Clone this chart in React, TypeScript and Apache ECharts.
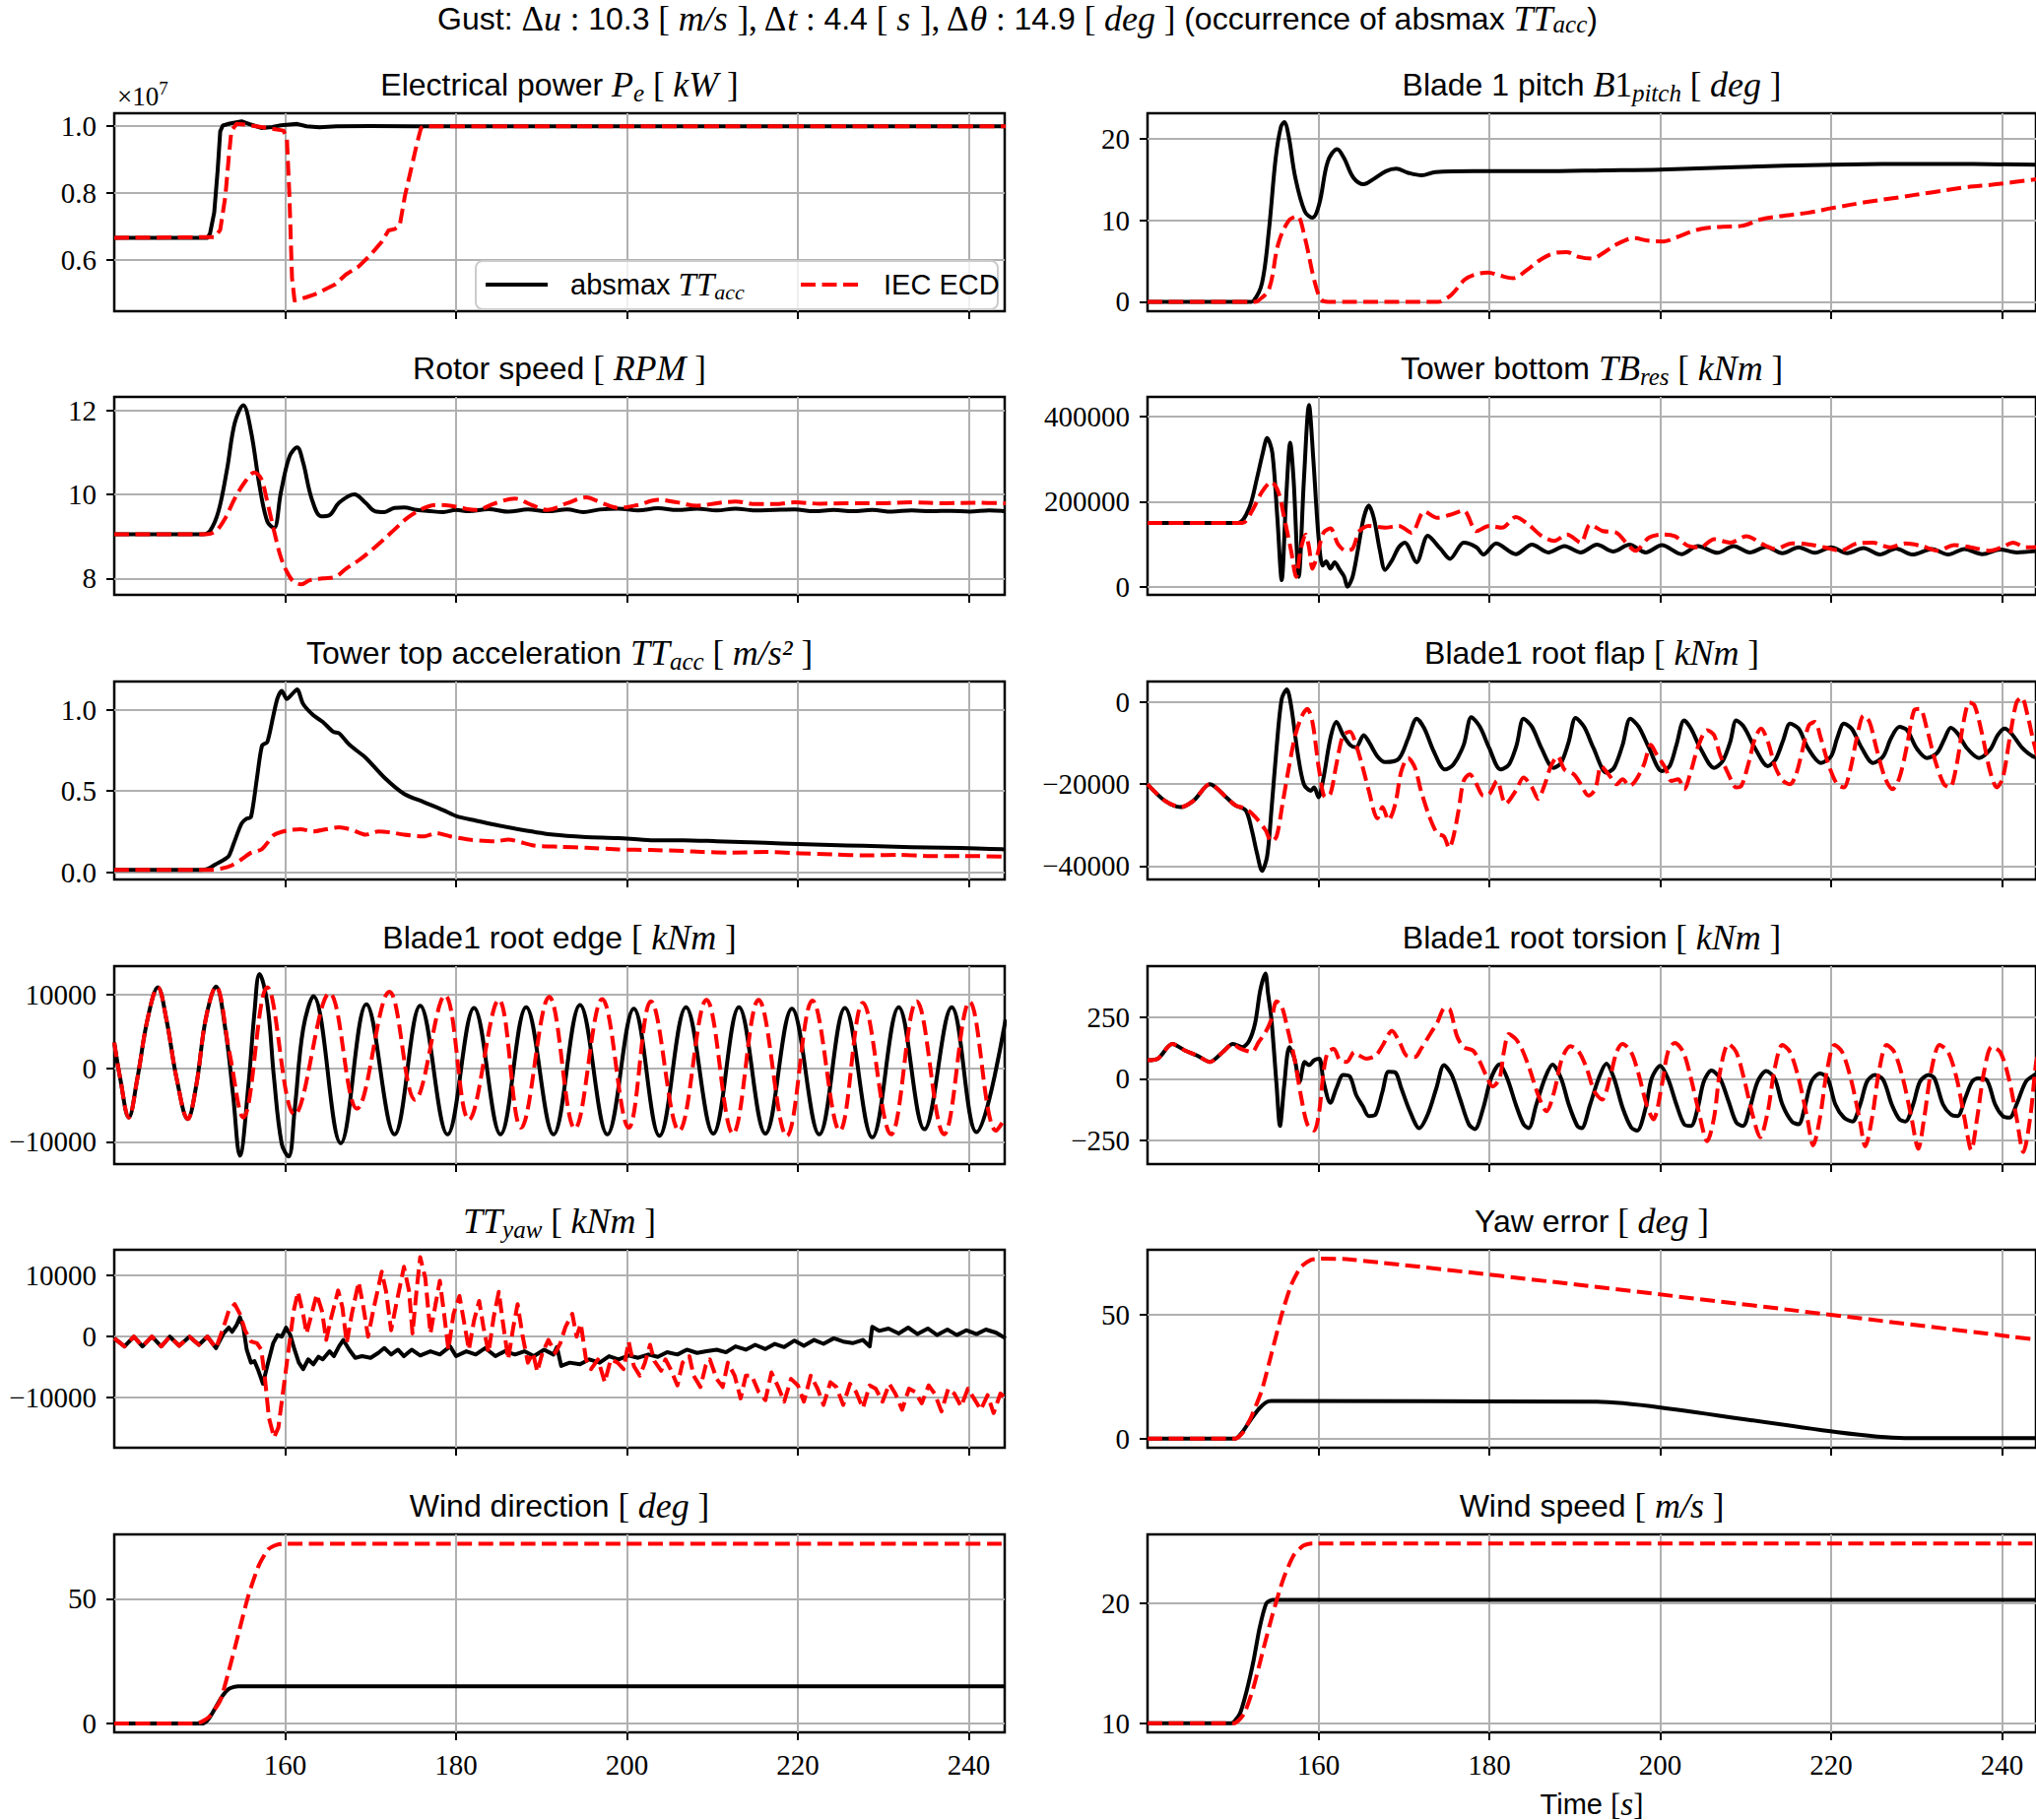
import React, { useEffect, useRef } from "react";
import * as echarts from "echarts";

// ---------------- data (time [s], value) ----------------
const X_TICKS = [160, 180, 200, 220, 240];

// Electrical power, in units of 1e7
const powerAbsmax = [[140,0.666],[150.9,0.666],[151.2,0.678],[151.7,0.742],[152.1,0.868],[152.4,0.985],[152.7,1.002],[153.5,1.008],[154.9,1.015],[156.0,1.005],[157.2,0.995],[158.5,0.998],[159.5,1.003],[161.4,1.007],[162.5,1.0],[164.0,0.997],[166.0,1.0],[170.0,1.001],[175.0,1.0],[244.3,1.0]];
const powerIec = [[140,0.666],[151.8,0.668],[152.4,0.69],[153.0,0.79],[153.4,0.907],[153.7,0.985],[154.3,1.007],[155.3,1.005],[157.2,0.998],[159.8,0.987],[160.2,0.965],[160.5,0.79],[160.8,0.546],[161.1,0.478],[161.8,0.483],[162.5,0.488],[163.3,0.495],[164.0,0.502],[164.8,0.513],[165.9,0.527],[167.1,0.556],[168.6,0.58],[169.8,0.61],[170.5,0.63],[171.3,0.654],[172.1,0.688],[172.8,0.692],[173.4,0.702],[174.0,0.79],[174.7,0.868],[175.4,0.946],[175.9,0.995],[176.3,1.0],[244.3,1.0]];

const pitchAbsmax = [[140,0],[152.0,0],[152.4,0.1],[153.4,2.3],[154.2,8.7],[155.0,17.6],[155.6,21.4],[156.0,22.0],[156.5,20.4],[157.3,15.2],[158.4,11.1],[159.3,10.3],[160.1,12.0],[161.1,17.2],[162.2,18.7],[163.0,17.6],[164.1,15.2],[165.3,14.4],[166.4,15.0],[167.9,16.0],[169.1,16.3],[170.5,15.8],[172.1,15.5],[173.7,15.9],[178.2,16.0],[185.9,16.0],[193.5,16.1],[200.0,16.2],[208.8,16.5],[220.2,16.8],[231.7,16.9],[244.3,16.8]];
const pitchIec = [[140,0],[152.5,0],[152.9,0.1],[154.2,1.5],[155.3,7.1],[156.5,9.9],[157.5,10.5],[158.4,7.9],[159.5,2.7],[160.3,0.3],[161.1,0],[174.0,0],[174.4,0.1],[175.6,0.9],[177.1,2.7],[178.2,3.3],[179.8,3.6],[181.3,3.2],[182.8,2.9],[184.4,3.9],[185.9,5.1],[187.4,5.9],[189.0,6.1],[190.5,5.5],[192.0,5.3],[193.5,6.1],[195.0,7.1],[197.0,7.8],[198.5,7.5],[200.4,7.4],[201.9,7.9],[204.6,8.9],[207.3,9.2],[209.5,9.3],[211.8,10.1],[214.1,10.5],[217.2,10.9],[220.2,11.5],[224.0,12.2],[227.9,12.8],[231.7,13.4],[235.5,14.0],[239.3,14.4],[244.3,15.05]];

const rotorAbsmax = [[140,9.05],[150.3,9.05],[151.2,9.13],[152.2,9.6],[153.2,10.6],[154.1,11.7],[155.1,12.12],[156.0,11.5],[157.0,10.2],[157.9,9.36],[158.7,9.2],[159.5,10.05],[160.5,10.9],[161.4,11.12],[162.1,10.76],[163.1,9.9],[164.2,9.48],[165.2,9.51],[166.3,9.8],[168.1,10.0],[169.4,9.8],[170.5,9.6],[171.6,9.58],[172.8,9.68],[173.9,9.69],[175.4,9.63],[177.0,9.6],[178.5,9.58],[180.0,9.63],[181.5,9.6],[183.8,9.65],[186.1,9.59],[188.4,9.64],[190.7,9.6],[193.0,9.64],[194.9,9.58],[196.8,9.64],[199.0,9.66],[201.3,9.62],[203.6,9.67],[205.9,9.63],[208.2,9.66],[210.5,9.62],[212.7,9.66],[215.0,9.62],[217.3,9.63],[219.6,9.64],[221.9,9.6],[224.2,9.63],[226.4,9.6],[228.7,9.63],[231.0,9.59],[233.3,9.62],[235.6,9.6],[237.9,9.61],[240.1,9.59],[242.4,9.62],[244.3,9.6]];
const rotorIec = [[140,9.05],[150.7,9.05],[151.9,9.13],[153.0,9.44],[154.1,9.9],[155.3,10.3],[156.4,10.52],[157.2,10.37],[157.9,9.83],[158.7,9.13],[159.5,8.5],[160.2,8.16],[161.0,7.92],[161.9,7.86],[162.9,7.96],[164.4,8.0],[165.9,8.04],[167.1,8.23],[168.6,8.43],[170.5,8.74],[172.4,9.09],[174.3,9.44],[176.2,9.67],[177.7,9.75],[179.3,9.73],[180.8,9.67],[182.3,9.63],[184.6,9.79],[186.9,9.9],[188.8,9.75],[190.7,9.63],[193.0,9.79],[195.2,9.93],[197.1,9.79],[199.0,9.68],[201.3,9.75],[203.6,9.87],[205.9,9.81],[208.2,9.73],[210.5,9.79],[212.7,9.83],[215.0,9.77],[217.3,9.77],[219.6,9.81],[222.6,9.78],[225.7,9.79],[229.5,9.79],[233.3,9.81],[237.1,9.79],[240.9,9.8],[244.3,9.79]];

const towerAbsmax = [[140,150000],[150.6,150000],[151.9,185000],[152.8,254000],[153.5,315000],[154.0,349000],[154.6,315000],[155.2,160000],[155.7,16000],[156.2,200000],[156.7,338000],[157.1,250000],[157.7,24000],[158.3,250000],[158.9,426000],[159.4,300000],[160.0,120000],[160.5,50000],[160.9,60000],[161.4,43000],[161.9,58000],[162.5,40000],[163.0,25000],[163.4,1000],[164.0,24000],[164.6,85000],[165.3,162000],[165.9,191000],[166.5,160000],[167.2,85000],[167.8,40000],[168.6,62000],[169.4,93000],[170.1,104000],[171.5,58000],[172.8,120000],[174.3,89000],[175.4,66000],[177.0,104000],[178.5,93000],[179.3,76000],[180.8,102000],[183.1,77000],[185.0,99000],[186.9,81000],[188.8,96000],[190.7,81000],[192.6,99000],[194.5,83000],[196.4,99000],[198.3,81000],[200.2,98000],[202.5,77000],[204.4,96000],[206.7,80000],[208.6,96000],[210.5,81000],[212.4,94000],[214.3,79000],[216.2,93000],[218.1,80000],[220.0,93000],[221.9,79000],[223.8,91000],[225.7,76000],[227.6,90000],[229.5,76000],[231.8,89000],[233.7,76000],[235.6,89000],[237.7,77000],[239.8,88000],[241.7,81000],[244.3,85000]];
const towerIec = [[140,150000],[151.1,150000],[152.2,177000],[153.4,223000],[154.5,246000],[155.3,223000],[156.0,162000],[156.8,85000],[157.4,24000],[157.9,85000],[158.5,123000],[158.9,93000],[159.3,43000],[159.8,70000],[160.6,127000],[161.4,137000],[162.3,100000],[163.2,85000],[164.0,90000],[164.8,131000],[165.9,143000],[167.8,139000],[169.4,143000],[170.9,127000],[172.4,177000],[173.9,162000],[175.4,169000],[177.0,179000],[178.5,131000],[180.0,143000],[181.5,139000],[183.1,164000],[184.6,146000],[186.1,120000],[187.6,108000],[189.1,123000],[190.7,104000],[191.8,146000],[193.3,131000],[194.9,127000],[196.0,104000],[197.1,85000],[198.7,116000],[200.2,123000],[201.7,119000],[203.2,97000],[204.7,93000],[206.3,112000],[208.2,104000],[210.1,119000],[212.0,100000],[213.5,89000],[215.4,102000],[217.3,100000],[219.2,93000],[221.1,85000],[223.0,102000],[224.9,104000],[226.8,93000],[228.7,102000],[230.6,96000],[232.5,85000],[234.4,98000],[236.3,93000],[238.6,85000],[240.1,94000],[241.3,104000],[242.8,93000],[244.3,94000]];

const accAbsmax = [[140,0.015],[150.0,0.015],[150.9,0.02],[151.9,0.05],[152.8,0.076],[153.4,0.10],[154.0,0.18],[154.9,0.30],[155.5,0.33],[156.0,0.34],[156.7,0.58],[157.3,0.78],[157.9,0.80],[158.6,0.96],[159.1,1.07],[159.6,1.115],[160.2,1.065],[160.8,1.095],[161.4,1.125],[162.1,1.035],[163.3,0.965],[164.4,0.925],[165.6,0.865],[166.3,0.855],[167.5,0.785],[169.4,0.705],[171.6,0.583],[173.9,0.483],[176.2,0.432],[178.5,0.382],[180.0,0.346],[182.3,0.318],[184.6,0.292],[187.6,0.262],[191.4,0.231],[195.2,0.217],[199.0,0.211],[202.8,0.197],[206.6,0.197],[210.5,0.191],[214.3,0.185],[218.1,0.177],[221.9,0.171],[225.7,0.165],[229.5,0.161],[233.3,0.155],[237.1,0.151],[240.9,0.147],[244.3,0.141]];
const accIec = [[140,0.015],[151.1,0.015],[152.6,0.024],[153.8,0.044],[154.9,0.08],[156.0,0.12],[157.2,0.14],[157.9,0.18],[158.7,0.23],[160.2,0.257],[161.8,0.265],[163.3,0.251],[164.8,0.265],[166.3,0.277],[167.8,0.261],[169.4,0.231],[170.9,0.251],[172.4,0.245],[173.9,0.231],[176.2,0.221],[177.7,0.241],[179.3,0.221],[181.5,0.201],[184.6,0.191],[186.1,0.201],[189.1,0.165],[192.2,0.157],[195.2,0.151],[199.0,0.141],[202.8,0.137],[206.6,0.131],[208.9,0.125],[211.9,0.121],[216.5,0.125],[220.3,0.117],[224.1,0.11],[227.9,0.104],[231.7,0.108],[235.5,0.10],[239.3,0.10],[244.3,0.097]];

const flapAbsmax = [[140,-20000],[142.0,-24000],[143.9,-25600],[145.4,-24000],[147.3,-20000],[149.2,-23200],[150.3,-25200],[151.5,-26400],[152.2,-31200],[152.8,-36800],[153.4,-41200],[154.0,-37600],[154.5,-26400],[155.1,-11200],[155.7,800],[156.3,3200],[156.8,-800],[157.6,-12800],[158.3,-20000],[159.1,-21600],[159.5,-20800],[160.0,-23200],[160.6,-18400],[161.4,-8800],[162.1,-4800],[162.9,-8000],[163.7,-10400],[164.4,-11000],[165.3,-8000],[165.9,-9600],[166.9,-13200],[167.8,-14600],[169.4,-13800],[170.5,-8800],[171.5,-4000],[172.4,-6400],[173.5,-12000],[174.8,-16400],[175.8,-15200],[177.0,-10400],[177.9,-3600],[178.9,-6000],[180.0,-11200],[181.3,-16400],[182.3,-15200],[183.2,-10400],[184.0,-4000],[185.0,-6000],[186.1,-11200],[187.5,-16000],[188.4,-14800],[189.3,-9600],[190.1,-3800],[191.1,-6000],[192.2,-11200],[193.7,-17200],[194.6,-16000],[195.6,-10400],[196.5,-4000],[197.5,-6000],[198.7,-11200],[200.2,-16800],[201.1,-15600],[201.9,-10400],[202.8,-4400],[203.6,-6400],[204.7,-11200],[206.3,-16000],[207.3,-14400],[208.2,-9600],[208.9,-4400],[209.8,-6000],[211.1,-11200],[212.6,-15600],[213.5,-14000],[214.4,-9200],[215.2,-5200],[216.2,-6400],[217.3,-11200],[218.8,-14800],[220.0,-13200],[220.7,-8800],[221.5,-5200],[222.4,-6400],[223.6,-11200],[224.9,-14800],[226.1,-13200],[227.0,-8800],[228.0,-6000],[228.9,-6800],[230.0,-11200],[231.2,-13600],[232.4,-12400],[233.3,-8800],[234.0,-6200],[234.8,-7600],[235.9,-11200],[237.3,-13600],[238.6,-11600],[239.5,-8000],[240.3,-6400],[241.1,-7600],[242.4,-11200],[243.6,-13200],[244.3,-13500]];
const flapIec = [[140,-20000],[142.0,-24000],[143.9,-25600],[145.4,-24000],[147.3,-20000],[149.2,-23200],[150.3,-25200],[151.5,-26000],[152.6,-28000],[153.8,-31200],[154.5,-34000],[155.1,-32800],[155.8,-24800],[156.6,-15200],[157.3,-8000],[158.1,-3200],[158.7,-1600],[159.3,-4800],[160.1,-16800],[160.8,-23200],[161.4,-22400],[162.1,-15200],[162.9,-8000],[163.7,-7200],[164.4,-10400],[165.2,-16000],[165.9,-21600],[166.9,-28400],[167.5,-25600],[168.2,-28800],[169.0,-24800],[169.7,-16800],[170.5,-13600],[171.3,-16000],[172.0,-21600],[173.0,-28000],[173.9,-32000],[174.7,-32800],[175.3,-35600],[175.8,-32800],[176.4,-26400],[177.0,-19200],[177.7,-17600],[178.5,-20000],[179.3,-22800],[180.0,-22400],[180.9,-19200],[181.9,-24800],[183.1,-21600],[184.0,-18400],[185.0,-20800],[185.7,-23600],[186.5,-20000],[187.2,-15600],[188.0,-13200],[188.8,-16400],[189.9,-17600],[190.7,-20000],[191.6,-22800],[192.4,-21200],[193.1,-15600],[194.1,-18000],[194.9,-20000],[195.6,-18800],[196.4,-20400],[197.1,-19200],[198.1,-15200],[198.9,-10400],[199.6,-12800],[200.6,-16000],[201.3,-19200],[202.1,-18800],[202.8,-21200],[203.6,-16800],[204.5,-10400],[205.5,-6800],[206.3,-8000],[207.0,-12800],[208.0,-17600],[208.9,-20800],[209.5,-20400],[210.3,-15200],[211.1,-8800],[211.8,-6400],[212.6,-9600],[213.5,-16000],[214.4,-19200],[215.2,-20000],[215.9,-17600],[216.7,-11200],[217.4,-5600],[218.1,-4800],[218.8,-8800],[219.7,-15200],[220.7,-20000],[221.5,-20800],[222.2,-16800],[223.0,-8800],[223.8,-3200],[224.5,-4800],[225.3,-11200],[226.3,-18400],[227.2,-21200],[228.0,-18400],[228.9,-10400],[229.7,-2000],[230.4,-1600],[231.2,-6400],[232.2,-14400],[233.2,-20000],[233.9,-20800],[234.7,-15200],[235.5,-4800],[236.2,0],[236.8,-800],[237.7,-8000],[238.6,-16800],[239.4,-20800],[240.1,-18400],[240.9,-8800],[241.7,0],[242.3,1200],[243.0,-3200],[243.6,-8800],[244.3,-14400]];

const edgeAbsmax = [[140,3500],[140.7,-1400],[141.7,-6700],[142.7,-1400],[143.9,6700],[145.1,11000],[146.1,6650],[147.3,-1400],[148.6,-6900],[149.6,-2300],[150.7,6650],[151.9,11100],[153.0,5300],[153.9,-3600],[154.7,-11900],[155.7,-2300],[156.4,7500],[157.0,12800],[157.9,8900],[158.7,-1400],[159.6,-10300],[160.4,-12000],[161.1,-5800],[162.1,5300],[163.3,9800],[166.5,-10200],[169.5,8700],[172.8,-9000],[175.8,8500],[179.0,-9000],[182.1,8200],[185.2,-9000],[188.2,8300],[191.4,-9000],[194.5,8600],[197.7,-9000],[200.8,8100],[203.8,-9200],[206.9,8300],[210.1,-8900],[213.1,8300],[216.2,-8900],[219.3,8100],[222.5,-9000],[225.5,8200],[228.7,-9400],[231.8,8300],[234.8,-8300],[238.0,8300],[240.9,-8700],[244.3,6650]];
const edgeIec = [[140,3500],[140.7,-1400],[141.7,-6700],[142.7,-1400],[143.9,6700],[145.1,11000],[146.1,6650],[147.3,-1400],[148.6,-6900],[149.6,-2300],[150.7,6650],[151.9,11100],[153.5,2000],[155.1,-6700],[157.9,11000],[161.1,-6300],[165.2,10200],[168.4,-5500],[172.2,10400],[175.2,-4300],[178.7,9900],[181.5,-7000],[185.0,9300],[187.6,-8100],[190.9,9700],[193.9,-8200],[197.1,9400],[200.2,-8100],[202.8,9100],[206.1,-8500],[209.3,9300],[212.4,-8900],[215.4,9300],[218.7,-9200],[221.7,9200],[224.9,-8500],[227.6,8900],[230.9,-9000],[233.9,9100],[237.1,-9000],[240.1,9000],[243.2,-8500],[244.3,-6700]];

const torsionAbsmax = [[140,75],[141.2,81],[142.9,141],[144.4,114],[145.8,94],[147.3,68],[148.8,108],[150.0,141],[151.1,128],[151.9,154],[152.6,227],[153.2,360],[153.8,427],[154.1,347],[154.5,241],[155.1,-25],[155.5,-192],[156.0,-25],[156.6,128],[157.2,81],[157.8,-12],[158.4,68],[158.9,55],[159.5,75],[160.1,81],[160.6,-12],[161.4,-98],[162.1,-39],[162.9,15],[163.7,8],[164.4,-65],[165.2,-112],[165.9,-152],[166.7,-145],[167.5,-52],[168.2,28],[169.0,25],[169.7,-39],[170.7,-132],[171.8,-201],[172.8,-145],[173.8,-39],[174.7,55],[175.6,15],[176.6,-85],[177.6,-185],[178.3,-205],[179.3,-118],[180.2,1],[181.2,58],[182.1,1],[183.1,-105],[184.0,-185],[184.6,-201],[185.5,-105],[186.5,1],[187.4,57],[188.4,1],[189.3,-105],[190.3,-192],[190.8,-201],[191.8,-105],[192.8,1],[193.7,61],[194.6,1],[195.6,-118],[196.6,-198],[197.3,-211],[198.3,-118],[199.0,1],[200.0,52],[200.9,1],[201.9,-105],[202.8,-185],[203.6,-192],[204.4,-118],[205.1,-12],[206.0,33],[207.0,1],[208.0,-92],[208.9,-178],[209.7,-192],[210.5,-118],[211.4,-12],[212.4,31],[213.4,1],[214.3,-105],[215.4,-174],[216.2,-185],[216.9,-118],[217.7,-12],[218.7,21],[219.6,1],[220.5,-105],[221.5,-158],[222.5,-174],[223.4,-105],[224.2,-12],[225.1,15],[226.1,-5],[227.1,-105],[228.0,-165],[228.7,-174],[229.6,-105],[230.4,-12],[231.4,15],[232.1,1],[233.1,-105],[234.0,-145],[234.8,-152],[235.7,-79],[236.5,-12],[237.2,1],[238.2,-5],[239.2,-105],[240.1,-152],[240.9,-158],[241.7,-105],[242.8,-12],[243.8,15],[244.3,20]];
const torsionIec = [[140,75],[141.2,81],[142.9,141],[144.4,114],[145.8,94],[147.3,68],[148.8,108],[150.0,141],[150.7,125],[151.5,114],[152.2,108],[153.0,148],[153.8,188],[154.5,241],[155.1,314],[155.7,294],[156.4,201],[157.2,81],[158.0,-78],[158.7,-185],[159.5,-211],[160.1,-132],[160.6,28],[161.1,108],[161.8,121],[162.5,75],[163.3,68],[164.2,108],[164.8,94],[165.6,81],[166.7,94],[167.5,134],[168.6,194],[169.5,148],[170.3,94],[171.3,88],[172.0,121],[173.2,188],[173.9,227],[174.8,287],[175.4,280],[176.2,174],[177.0,128],[178.1,114],[178.9,68],[179.6,15],[180.4,-32],[181.2,1],[181.7,108],[182.3,181],[183.1,161],[183.8,121],[184.7,41],[185.7,-65],[186.7,-132],[187.6,-52],[188.5,81],[189.5,132],[190.5,108],[191.4,41],[192.3,-52],[193.2,-85],[194.1,1],[194.9,108],[195.6,141],[196.6,108],[197.5,15],[198.4,-105],[199.2,-165],[200.2,-25],[200.9,108],[201.7,145],[202.7,108],[203.6,1],[204.5,-132],[205.5,-254],[206.3,-158],[207.0,28],[208.0,141],[208.9,108],[209.8,1],[210.8,-145],[211.7,-238],[212.6,-132],[213.4,41],[214.3,137],[215.2,108],[216.2,1],[217.2,-158],[217.9,-271],[218.7,-158],[219.5,28],[220.4,137],[221.3,108],[222.3,1],[223.3,-158],[224.0,-275],[224.8,-158],[225.6,28],[226.5,137],[227.4,108],[228.4,1],[229.4,-158],[230.2,-285],[230.9,-158],[231.7,28],[232.7,137],[233.7,108],[234.7,1],[235.6,-158],[236.4,-290],[237.1,-158],[237.9,28],[238.8,130],[239.8,108],[240.8,1],[241.7,-158],[242.5,-298],[243.3,-158],[244.0,68],[244.3,100]];

const yawMomentAbsmax = [[140,-320],[141.2,-1650],[142.3,-50],[143.3,-1650],[144.4,-50],[145.5,-1650],[146.5,-50],[147.6,-1550],[148.8,-50],[149.9,-1390],[150.9,-50],[151.9,-1920],[152.8,480],[153.4,1440],[153.8,750],[154.3,1810],[154.7,3150],[155.1,1550],[155.5,-2190],[156.0,-4320],[156.4,-4050],[156.8,-5380],[157.4,-7780],[157.9,-4850],[158.6,-1120],[159.1,210],[159.6,-50],[160.1,1440],[160.6,210],[161.1,-2190],[161.6,-4320],[162.1,-5380],[162.7,-3780],[163.3,-4580],[163.9,-3360],[164.4,-3780],[165.2,-2450],[165.7,-3250],[166.3,-1650],[166.8,-590],[167.5,-2190],[168.2,-3520],[169.0,-3250],[170.0,-3520],[170.9,-2720],[171.6,-1920],[172.4,-2980],[173.2,-2190],[173.9,-3250],[174.8,-2190],[175.8,-3140],[177.0,-2450],[178.1,-2980],[179.3,-1650],[180.0,-3250],[181.2,-2450],[182.3,-2980],[183.4,-1920],[184.6,-3250],[185.7,-2450],[186.9,-2980],[188.0,-2450],[189.1,-3250],[190.3,-2190],[191.4,-2980],[191.8,-1760],[192.3,-4850],[193.3,-4320],[194.5,-4580],[195.6,-3780],[196.8,-4320],[197.9,-3250],[199.0,-3780],[200.2,-3140],[201.3,-3520],[202.5,-2980],[203.6,-3360],[204.7,-2610],[205.9,-2980],[207.0,-2190],[208.2,-2720],[209.3,-2450],[210.5,-2190],[211.6,-2610],[212.7,-1650],[213.9,-2190],[215.0,-1390],[216.2,-2080],[217.3,-1230],[218.4,-1760],[219.6,-690],[220.7,-1550],[221.9,-590],[223.0,-1230],[224.2,-320],[225.3,-850],[226.4,-1120],[227.6,-590],[228.4,-1650],[228.7,1550],[229.5,900],[230.6,1280],[231.8,480],[232.9,1440],[234.0,370],[235.2,1280],[236.3,210],[237.5,1120],[238.6,210],[239.7,1010],[240.9,370],[242.0,1120],[243.2,590],[244.3,-320]];
const yawMomentIec = [[140,-320],[141.2,-1650],[142.3,-50],[143.3,-1650],[144.4,-50],[145.5,-1650],[146.5,-50],[147.6,-1550],[148.8,-50],[149.9,-1390],[150.9,-50],[151.9,-1920],[152.8,1550],[153.4,4210],[154.1,5280],[154.7,3680],[155.3,1010],[156.0,-850],[156.7,-1120],[157.2,-2190],[157.6,-6450],[158.1,-13380],[158.7,-16580],[159.2,-14980],[159.8,-8580],[160.5,-1120],[161.0,4210],[161.5,7300],[162.1,3680],[162.5,480],[163.1,3680],[163.7,6880],[164.3,4210],[164.8,-590],[165.4,3150],[166.2,7520],[166.7,4740],[167.2,-1120],[167.8,3680],[168.6,8900],[169.1,5280],[169.7,-50],[170.3,4210],[171.3,10600],[171.8,7410],[172.4,1010],[173.0,5280],[173.9,11400],[174.5,7410],[174.9,480],[175.4,7840],[175.8,13000],[176.4,9540],[177.0,480],[177.6,5280],[178.1,9110],[178.6,3680],[179.1,-2190],[179.7,3680],[180.4,6610],[180.9,2610],[181.5,-2190],[182.1,2610],[182.7,5810],[183.2,1550],[183.8,-2720],[184.4,3150],[185.0,7300],[185.5,2080],[186.1,-3780],[186.7,1550],[187.2,5280],[187.8,-50],[188.4,-4320],[189.0,-2720],[189.5,-5810],[190.1,-2720],[190.8,-590],[191.6,-2720],[192.2,-1120],[192.8,1550],[193.6,3680],[194.1,-50],[194.6,2080],[195.2,-3780],[195.8,-5380],[196.6,-3780],[197.4,-7520],[198.1,-3780],[198.9,-4320],[199.6,-5380],[200.2,-850],[200.8,-4850],[201.5,-6450],[202.1,-4320],[202.7,-1390],[203.2,-4050],[204.0,-5650],[204.5,-3780],[205.1,-5380],[205.9,-8050],[206.5,-4320],[207.3,-3250],[207.8,-6450],[208.6,-8310],[209.2,-4850],[209.7,-3780],[210.5,-6980],[211.2,-8310],[211.8,-4320],[212.6,-6450],[213.3,-10180],[213.9,-6450],[214.6,-6450],[215.4,-9110],[216.2,-10450],[216.9,-5920],[217.7,-8310],[218.4,-10710],[219.2,-6980],[220.0,-8050],[220.7,-10710],[221.5,-6450],[222.3,-8580],[223.0,-11250],[223.8,-7520],[224.5,-8310],[225.3,-11250],[226.1,-7780],[226.8,-9110],[227.6,-11780],[228.4,-8050],[229.1,-8580],[229.9,-10710],[230.7,-7780],[231.4,-9380],[232.2,-12050],[233.0,-8580],[233.7,-9110],[234.5,-10980],[235.3,-8050],[236.0,-9380],[236.8,-12310],[237.6,-8580],[238.3,-9380],[239.1,-11510],[239.9,-8580],[240.6,-10180],[241.4,-12050],[242.2,-9650],[242.9,-12580],[243.7,-9380],[244.3,-10180]];

const yawErrorAbsmax = [[140,0],[150.3,0],[151.1,2.6],[152.0,7.2],[153.0,11.8],[153.8,14.4],[154.5,15.1],[192.6,14.8],[228.6,0.2],[244.3,0.2]];
const yawErrorIec = [[140,0],[150.3,0],[151.2,2.6],[152.2,9.2],[153.4,19.7],[154.5,34.1],[155.7,49.9],[156.8,61.7],[157.9,68.9],[159.1,71.9],[160.2,72.4],[163.3,72.2],[244.3,39.7]];

const windDirAbsmax = [[140,0],[150.4,0],[151.1,2],[151.9,6.6],[152.7,11.2],[153.4,13.8],[154.0,14.6],[154.5,14.9],[244.3,14.9]];
const windDirIec = [[140,0],[149.6,0],[150.3,0.8],[151.1,2.6],[152.4,9.2],[153.4,21],[154.5,35.5],[155.7,51.3],[156.9,63.2],[158.0,69.7],[159.1,71.7],[160.0,72.0],[244.3,72.0]];

const windSpeedAbsmax = [[140,10],[149.8,10],[150.8,10.8],[151.6,12.7],[152.4,15.2],[153.1,17.9],[153.9,20.0],[154.6,20.3],[244.3,20.3]];
const windSpeedIec = [[140,10],[150.1,10],[151.3,10.8],[152.4,13.0],[153.4,15.75],[154.6,19.0],[155.9,22.05],[157.1,24.0],[158.2,24.8],[159.2,25.0],[244.3,25.0]];

// ---------------- panel definitions ----------------
const PANELS = [
  { title: "{t|Electrical power }{m|P}{s|e}{r| [ }{m|kW}{r| ]}", a: powerAbsmax, b: powerIec, yMin: 0.446, yMax: 1.039, yTicks: [0.6, 0.8, 1.0], dec: 1, smooth: 0 },
  { title: "{t|Blade 1 pitch }{m|B}{r|1}{s|pitch}{r| [ }{m|deg}{r| ]}", a: pitchAbsmax, b: pitchIec, yMin: -1.15, yMax: 23.1, yTicks: [0, 10, 20], dec: 0, smooth: 0.35 },
  { title: "{t|Rotor speed }{r|[ }{m|RPM}{r| ]}", a: rotorAbsmax, b: rotorIec, yMin: 7.61, yMax: 12.32, yTicks: [8, 10, 12], dec: 0, smooth: 0.35 },
  { title: "{t|Tower bottom }{m|TB}{s|res}{r| [ }{m|kNm}{r| ]}", a: towerAbsmax, b: towerIec, yMin: -18300, yMax: 445000, yTicks: [0, 200000, 400000], dec: 0, smooth: 0.3 },
  { title: "{t|Tower top acceleration }{m|TT}{s|acc}{r| [ }{m|m/s²}{r| ]}", a: accAbsmax, b: accIec, yMin: -0.044, yMax: 1.173, yTicks: [0, 0.5, 1.0], dec: 1, smooth: 0.25 },
  { title: "{t|Blade1 root flap }{r|[ }{m|kNm}{r| ]}", a: flapAbsmax, b: flapIec, yMin: -43300, yMax: 5100, yTicks: [-40000, -20000, 0], dec: 0, smooth: 0.3 },
  { title: "{t|Blade1 root edge }{r|[ }{m|kNm}{r| ]}", a: edgeAbsmax, b: edgeIec, yMin: -13040, yMax: 13880, yTicks: [-10000, 0, 10000], dec: 0, smooth: 0.38 },
  { title: "{t|Blade1 root torsion }{r|[ }{m|kNm}{r| ]}", a: torsionAbsmax, b: torsionIec, yMin: -347, yMax: 457, yTicks: [-250, 0, 250], dec: 0, smooth: 0.3 },
  { title: "{m|TT}{s|yaw}{r| [ }{m|kNm}{r| ]}", a: yawMomentAbsmax, b: yawMomentIec, yMin: -18270, yMax: 14200, yTicks: [-10000, 0, 10000], dec: 0, smooth: 0 },
  { title: "{t|Yaw error }{r|[ }{m|deg}{r| ]}", a: yawErrorAbsmax, b: yawErrorIec, yMin: -3.7, yMax: 76.0, yTicks: [0, 50], dec: 0, smooth: 0.2 },
  { title: "{t|Wind direction }{r|[ }{m|deg}{r| ]}", a: windDirAbsmax, b: windDirIec, yMin: -3.6, yMax: 75.8, yTicks: [0, 50], dec: 0, smooth: 0.2 },
  { title: "{t|Wind speed }{r|[ }{m|m/s}{r| ]}", a: windSpeedAbsmax, b: windSpeedIec, yMin: 9.25, yMax: 25.75, yTicks: [10, 20], dec: 0, smooth: 0.2 },
];

// ---------------- layout / style ----------------
const SANS = "'Liberation Sans', Arial, sans-serif";
const SERIF = "'Liberation Serif', 'Times New Roman', serif";
const COL_LEFT = [116, 1165];
const COL_WIDTH = [904, 902];
const X_MAX = [244.2, 243.98];
const ROW_TOP = [115, 403, 692, 981, 1269, 1558];
const ROW_H = 201;
const GRID_COLOR = "#b0b0b0";
const LINE_W = 4;

const richBig = {
  t: { fontFamily: SANS, fontSize: 32, lineHeight: 44, fill: "#000" },
  m: { fontFamily: SERIF, fontStyle: "italic", fontSize: 36, lineHeight: 44, fill: "#000" },
  r: { fontFamily: SERIF, fontSize: 35, lineHeight: 44, fill: "#000" },
  s: { fontFamily: SERIF, fontStyle: "italic", fontSize: 25, lineHeight: 28, padding: [16, 0, 0, 0], fill: "#000" },
};
const richSup = {
  t: { fontFamily: SANS, fontSize: 32, lineHeight: 30, fill: "#000" },
  m: { fontFamily: SERIF, fontStyle: "italic", fontSize: 36, lineHeight: 30, fill: "#000" },
  r: { fontFamily: SERIF, fontSize: 35, lineHeight: 30, fill: "#000" },
  s: { fontFamily: SERIF, fontStyle: "italic", fontSize: 25, lineHeight: 20, padding: [10, 0, 0, 0], fill: "#000" },
};
const richSmall = {
  t: { fontFamily: SANS, fontSize: 29, lineHeight: 38, fill: "#000" },
  m: { fontFamily: SERIF, fontStyle: "italic", fontSize: 33, lineHeight: 38, fill: "#000" },
  r: { fontFamily: SERIF, fontSize: 31, lineHeight: 38, fill: "#000" },
  s: { fontFamily: SERIF, fontStyle: "italic", fontSize: 22, lineHeight: 24, padding: [14, 0, 0, 0], fill: "#000" },
};

function fmtTick(v: number, dec: number) {
  const s = dec > 0 ? Math.abs(v).toFixed(dec) : String(Math.round(Math.abs(v)));
  return (v < -1e-9 ? "\u2212" : "") + s;
}

function buildOption() {
  const grid: any[] = [];
  const xAxis: any[] = [];
  const yAxis: any[] = [];
  const series: any[] = [];
  const elements: any[] = [];

  PANELS.forEach((p, i) => {
    const row = Math.floor(i / 2);
    const col = i % 2;
    grid.push({
      left: COL_LEFT[col], top: ROW_TOP[row], width: COL_WIDTH[col], height: ROW_H,
      show: true, borderColor: "#000", borderWidth: 2.5, backgroundColor: "rgba(0,0,0,0)",
      containLabel: false, outerBoundsMode: "none",
    });
    xAxis.push({
      type: "value", gridIndex: i, min: 140, max: X_MAX[col], interval: 20,
      axisLine: { show: false, onZero: false },
      axisTick: { show: true, inside: false, length: 8, lineStyle: { color: "#000", width: 2 }, customValues: X_TICKS },
      axisLabel: { show: row === 5, customValues: X_TICKS, margin: 18, color: "#000", fontFamily: SERIF, fontSize: 29, formatter: (v: number) => fmtTick(v, 0) },
      splitLine: { show: true, lineStyle: { color: GRID_COLOR, width: 2 } },
    });
    yAxis.push({
      type: "value", gridIndex: i, min: p.yMin, max: p.yMax,
      axisLine: { show: false, onZero: false },
      axisTick: { show: true, inside: false, length: 8, lineStyle: { color: "#000", width: 2 }, customValues: p.yTicks },
      axisLabel: { show: true, customValues: p.yTicks, margin: 18, color: "#000", fontFamily: SERIF, fontSize: 29, formatter: (v: number) => fmtTick(v, p.dec) },
      splitLine: { show: true, lineStyle: { color: GRID_COLOR, width: 2 } },
    });
    series.push({
      type: "line", name: "absmax", xAxisIndex: i, yAxisIndex: i, data: p.a,
      symbol: "none", showSymbol: false, smooth: p.smooth, silent: true, z: 2,
      lineStyle: { color: "#000000", width: LINE_W, join: "round" },
    });
    series.push({
      type: "line", name: "IEC ECD", xAxisIndex: i, yAxisIndex: i, data: p.b,
      symbol: "none", showSymbol: false, smooth: p.smooth, silent: true, z: 3,
      lineStyle: { color: "#ff0000", width: LINE_W, type: [15, 6.5], join: "round" },
    });
    elements.push({
      type: "text", x: COL_LEFT[col] + COL_WIDTH[col] / 2, y: ROW_TOP[row] - 29, z: 50,
      style: { text: p.title, rich: richBig, align: "center", verticalAlign: "middle", fill: "#000", fontFamily: SANS, fontSize: 32 },
    });
  });

  // suptitle
  elements.push({
    type: "text", x: 1033, y: 19, z: 50,
    style: {
      text: "{t|Gust: }{r|Δ}{m|u}{r| : }{t|10.3 }{r|[ }{m|m/s}{r| ], Δ}{m|t}{r| : }{t|4.4 }{r|[ }{m|s}{r| ], Δ}{m|θ}{r| : }{t|14.9 }{r|[ }{m|deg}{r| ] }{t|(occurrence of absmax }{m|TT}{s|acc}{t|)}",
      rich: richSup, align: "center", verticalAlign: "middle", fill: "#000", fontFamily: SANS, fontSize: 32,
    },
  });
  // offset text x10^7
  elements.push({
    type: "text", x: 119, y: 98, z: 50,
    style: {
      text: "{a|×10}{b|7}",
      rich: {
        a: { fontFamily: SERIF, fontSize: 27, lineHeight: 36, fill: "#000" },
        b: { fontFamily: SERIF, fontSize: 19, lineHeight: 18, padding: [0, 0, 18, 0], fill: "#000" },
      },
      align: "left", verticalAlign: "middle", fill: "#000",
    },
  });
  // x axis label
  elements.push({
    type: "text", x: COL_LEFT[1] + COL_WIDTH[1] / 2, y: 1832, z: 50,
    style: { text: "{t|Time }{r|[}{m|s}{r|]}", rich: richSmall, align: "center", verticalAlign: "middle", fill: "#000" },
  });
  // legend (panel 1, lower right)
  elements.push({
    type: "rect", z: 100,
    shape: { x: 483, y: 265, width: 530, height: 49, r: 7 },
    style: { fill: "rgba(255,255,255,0.8)", stroke: "#cccccc", lineWidth: 2 },
  });
  elements.push({
    type: "line", z: 101,
    shape: { x1: 493, y1: 289, x2: 556, y2: 289 },
    style: { stroke: "#000000", lineWidth: LINE_W },
  });
  elements.push({
    type: "text", x: 579, y: 289, z: 101,
    style: { text: "{t|absmax }{m|TT}{s|acc}", rich: richSmall, align: "left", verticalAlign: "middle", fill: "#000" },
  });
  elements.push({
    type: "line", z: 101,
    shape: { x1: 813, y1: 289, x2: 873, y2: 289 },
    style: { stroke: "#ff0000", lineWidth: LINE_W, lineDash: [15, 6.5] },
  });
  elements.push({
    type: "text", x: 897, y: 289, z: 101,
    style: { text: "{t|IEC ECD}", rich: richSmall, align: "left", verticalAlign: "middle", fill: "#000" },
  });

  return {
    animation: false,
    backgroundColor: "#ffffff",
    textStyle: { fontFamily: SANS },
    grid, xAxis, yAxis, series,
    graphic: { elements },
  };
}

export default function App() {
  const ref = useRef<HTMLDivElement>(null);
  useEffect(() => {
    if (!ref.current) return;
    const chart = echarts.init(ref.current, null, { renderer: "svg" });
    chart.setOption(buildOption() as any);
    return () => chart.dispose();
  }, []);
  return (
    <div
      ref={ref}
      style={{ position: "absolute", left: 0, top: 0, width: 2067, height: 1848, background: "#fff" }}
    />
  );
}
